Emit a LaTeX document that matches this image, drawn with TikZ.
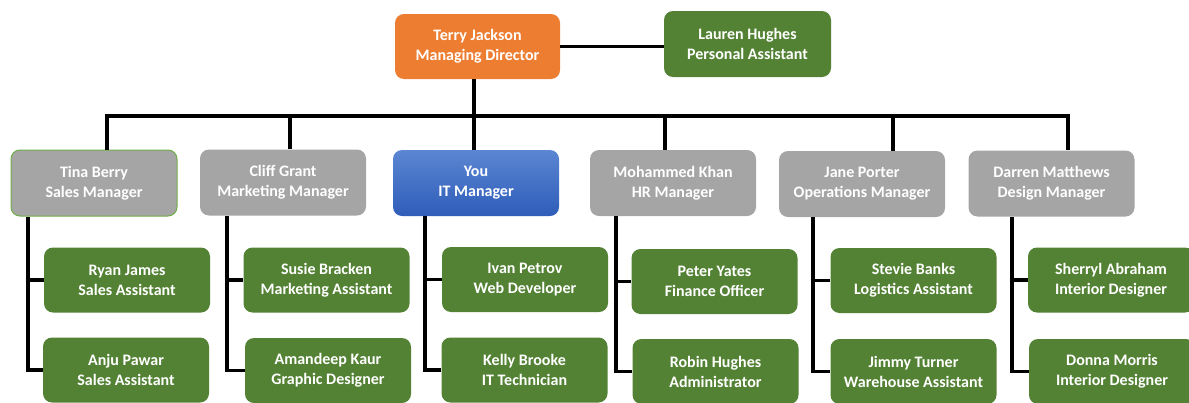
\documentclass[tikz,border=0pt]{standalone}
\usepackage{fontspec}
\setmainfont{Carlito}[BoldFont={Carlito Bold}]
\usetikzlibrary{positioning}

\definecolor{mdorange}{HTML}{ED7D31}
\definecolor{staffgreen}{HTML}{548235}
\definecolor{mgrgrey}{HTML}{A5A5A5}
\definecolor{edgegreen}{HTML}{70AD47}
\definecolor{youtop}{HTML}{5B86D2}
\definecolor{youbot}{HTML}{2F5DB9}

\begin{document}
\begin{tikzpicture}[
  x=1pt, y=-1pt,
  font=\fontsize{16}{20}\selectfont\bfseries,
  person/.style={rounded corners=9pt, align=center, text=white, minimum width=166pt, minimum height=65pt, inner sep=0pt},
  boss/.style={person, fill=mdorange},
  staff/.style={person, fill=staffgreen},
  manager/.style={person, fill=mgrgrey, minimum height=66pt},
  link/.style={line width=3.5pt, draw=black}
]
\useasboundingbox (0,0) rectangle (1189,402);

% top row
\node[boss, minimum width=165pt] (md) at (477.5,46.5) {Terry Jackson\\Managing Director};
\node[staff, minimum width=167pt, minimum height=66pt] (pa) at (747.5,44) {Lauren Hughes\\Personal Assistant};

% managers
\node[manager, draw=edgegreen, line width=1pt] (tb) at (94,183) {Tina Berry\\Sales Manager};
\node[manager] (cg) at (283,182.5) {Cliff Grant\\Marketing Manager};
\node[manager, fill=none, top color=youtop, bottom color=youbot] (you) at (476,183) {You\\IT Manager};
\node[manager] (mk) at (673,183) {Mohammed Khan\\HR Manager};
\node[manager] (jp) at (862,184) {Jane Porter\\Operations Manager};
\node[manager] (dm) at (1051.5,183.5) {Darren Matthews\\Design Manager};

% staff under each manager
\node[staff] (rj) at (127,280) {Ryan James\\Sales Assistant};
\node[staff] (ap) at (126,370) {Anju Pawar\\Sales Assistant};
\node[staff] (sb) at (326.5,280) {Susie Bracken\\Marketing Assistant};
\node[staff] (ak) at (328,370.5) {Amandeep Kaur\\Graphic Designer};
\node[staff] (ip) at (525,279.5) {Ivan Petrov\\Web Developer};
\node[staff] (kb) at (524.5,370) {Kelly Brooke\\IT Technician};
\node[staff] (py) at (714.5,281.5) {Peter Yates\\Finance Officer};
\node[staff] (rh) at (715.5,371.5) {Robin Hughes\\Administrator};
\node[staff] (sbk) at (913.5,280.5) {Stevie Banks\\Logistics Assistant};
\node[staff] (jt) at (913.5,371.5) {Jimmy Turner\\Warehouse Assistant};
\node[staff] (sa) at (1111,280) {Sherryl Abraham\\Interior Designer};
\node[staff] (dmo) at (1112,371.5) {Donna Morris\\Interior Designer};

% bus drop points
\coordinate (d1) at (107,116);
\coordinate (d2) at (290,116);
\coordinate (d3) at (474,116);
\coordinate (d4) at (665,116);
\coordinate (d5) at (893,116);
\coordinate (d6) at (1068,116);

\draw[link] (md.east) -- (md.east -| pa.west);
\draw[link] (md.south -| d3) -- (d3 |- you.north);
\draw[link, line cap=rect] (d1) -- (d6);
\foreach \d/\m in {d1/tb, d2/cg, d4/mk, d5/jp, d6/dm}
  \draw[link] (\d) -- (\d |- \m.north);

% reporting lines down the left of each team
\foreach \m/\a/\b/\x in {tb/rj/ap/28, cg/sb/ak/227, you/ip/kb/425, mk/py/rh/616, jp/sbk/jt/813, dm/sa/dmo/1012} {
  \draw[link] (\x,0 |- \m.south) |- (\b.west);
  \draw[link] (\x,0 |- \a.west) -- (\a.west);
}

\end{tikzpicture}
\end{document}
